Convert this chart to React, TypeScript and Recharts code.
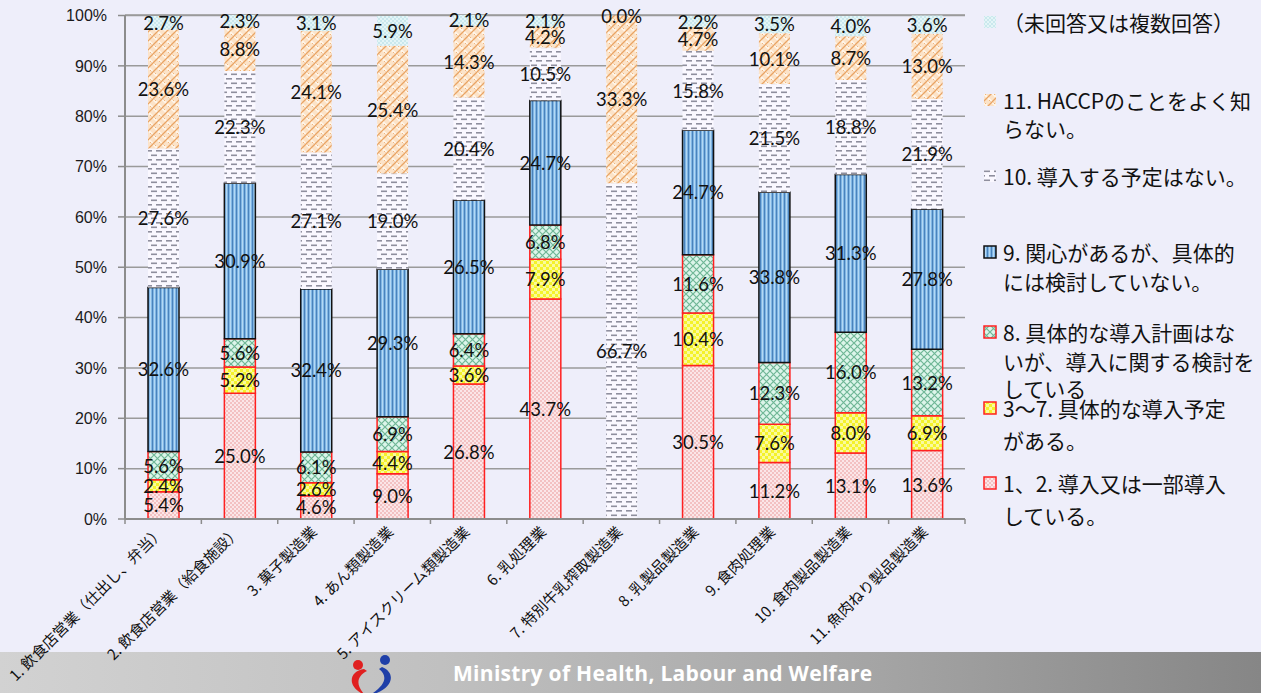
import React from 'react'
import { BarChart, Bar, XAxis, YAxis, CartesianGrid, LabelList } from 'recharts'

const categories = [
  '1. 飲食店営業（仕出し、弁当）',
  '2. 飲食店営業（給食施設）',
  '3. 菓子製造業',
  '4. あん類製造業',
  '5. アイスクリーム類製造業',
  '6. 乳処理業',
  '7. 特別牛乳搾取製造業',
  '8. 乳製品製造業',
  '9. 食肉処理業',
  '10. 食肉製品製造業',
  '11. 魚肉ねり製品製造業',
]

// bottom to top
const introduced = [5.4, 25.0, 4.6, 9.0, 26.8, 43.7, 0, 30.5, 11.2, 13.1, 13.6]
const planned = [2.4, 5.2, 2.6, 4.4, 3.6, 7.9, 0, 10.4, 7.6, 8.0, 6.9]
const considering = [5.6, 5.6, 6.1, 6.9, 6.4, 6.8, 0, 11.6, 12.3, 16.0, 13.2]
const interested = [32.6, 30.9, 32.4, 29.3, 26.5, 24.7, 0, 24.7, 33.8, 31.3, 27.8]
const noPlan = [27.6, 22.3, 27.1, 19.0, 20.4, 10.5, 66.7, 15.8, 21.5, 18.8, 21.9]
const unaware = [23.6, 8.8, 24.1, 25.4, 14.3, 4.2, 33.3, 4.7, 10.1, 8.7, 13.0]
const noAnswer = [2.7, 2.3, 3.1, 5.9, 2.1, 2.1, 0.0, 2.2, 3.5, 4.0, 3.6]

const yTicks = [0, 10, 20, 30, 40, 50, 60, 70, 80, 90, 100]

const data = categories.map((name, i) => ({
  name,
  introduced: introduced[i],
  planned: planned[i],
  considering: considering[i],
  interested: interested[i],
  noPlan: noPlan[i],
  unaware: unaware[i],
  noAnswer: noAnswer[i],
}))

const series = [
  { key: 'introduced', fill: 'url(#pDots)', stroke: '#ff2020' },
  { key: 'planned', fill: 'url(#pYellow)', stroke: '#ff2020' },
  { key: 'considering', fill: 'url(#pGreen)', stroke: '#ff2020' },
  { key: 'interested', fill: 'url(#pBlue)', stroke: '#111' },
  { key: 'noPlan', fill: 'url(#pDash)', stroke: 'none' },
  { key: 'unaware', fill: 'url(#pWeave)', stroke: 'none' },
  { key: 'noAnswer', fill: 'url(#pCyan)', stroke: 'none' },
]

const legendItems = [
  { fill: 'url(#pCyan)', stroke: 'none', lines: ['（未回答又は複数回答）'], ys: [22] },
  { fill: 'url(#pWeave)', stroke: 'none', lines: ['11. HACCPのことをよく知', 'らない。'], ys: [100, 128] },
  { fill: 'url(#pDash)', stroke: 'none', lines: ['10. 導入する予定はない。'], ys: [176] },
  { fill: 'url(#pBlue)', stroke: '#111', lines: ['9. 関心があるが、具体的', 'には検討していない。'], ys: [252, 281] },
  { fill: 'url(#pGreen)', stroke: '#ff2020', lines: ['8. 具体的な導入計画はな', 'いが、導入に関する検討を', 'している'], ys: [332, 361, 388] },
  { fill: 'url(#pYellow)', stroke: '#ff2020', lines: ['3～7. 具体的な導入予定', 'がある。'], ys: [408, 440] },
  { fill: 'url(#pDots)', stroke: '#ff2020', lines: ['1、2. 導入又は一部導入', 'している。'], ys: [483, 515] },
]

const BAND = 840 / 11
const JP = '"Noto Sans CJK JP", "Noto Sans", sans-serif'
const LABEL_FONT = "Lato, 'Open Sans', sans-serif"
const LABEL_SIZE = 18.5

function CatTick(props: any) {
  const { x, y, payload, index } = props
  const half = BAND / 2
  return (
    <g>
      {index === 0 && <line x1={x - half} x2={x - half} y1={y} y2={y + 5} stroke="#8c8c8c" strokeWidth={1.5} />}
      <line x1={x + half} x2={x + half} y1={y} y2={y + 5} stroke="#8c8c8c" strokeWidth={1.5} />
      <text
        transform={`translate(${x + 2},${y + 14}) rotate(-45)`}
        textAnchor="end"
        fontSize={15}
        fontFamily={JP}
        fill="#111"
      >
        {payload.value}
      </text>
    </g>
  )
}

function makeLabel(key: string) {
  return (props: any) => {
    const { x, y, width, height, value, index } = props
    const cx = x + width / 2
    // zero-height top segment (no answer) gets its label drawn from the segment below
    const extra =
      key === 'unaware' && noAnswer[index] === 0 ? (
        <text x={cx} y={y} textAnchor="middle" dominantBaseline="central" fontSize={LABEL_SIZE} fontFamily={LABEL_FONT} fill="#111">
          {noAnswer[index].toFixed(1)}%
        </text>
      ) : null
    if (value === 0) return extra
    return (
      <g>
        <text
          x={cx}
          y={y + height / 2}
          textAnchor="middle"
          dominantBaseline="central"
          fontSize={LABEL_SIZE}
          fontFamily={LABEL_FONT}
          fill="#111"
        >
          {Number(value).toFixed(1)}%
        </text>
        {extra}
      </g>
    )
  }
}

function Patterns() {
  return (
    <defs>
      <pattern id="pDots" width="4" height="4" patternUnits="userSpaceOnUse">
        <rect width="4" height="4" fill="#fbe6e8" />
        <circle cx="1" cy="1" r="0.75" fill="#e98a8a" />
        <circle cx="3" cy="3" r="0.75" fill="#e98a8a" />
      </pattern>
      <pattern id="pYellow" width="6" height="6" patternUnits="userSpaceOnUse">
        <rect width="6" height="6" fill="#f4f22a" />
        <rect x="0" y="0" width="3" height="3" fill="#fafa9c" />
        <rect x="3" y="3" width="3" height="3" fill="#fafa9c" />
      </pattern>
      <pattern id="pGreen" width="7" height="7" patternUnits="userSpaceOnUse">
        <rect width="7" height="7" fill="#dcf5ea" />
        <path d="M0 0L7 7M7 0L0 7" stroke="#6fb796" strokeWidth="1.2" />
      </pattern>
      <pattern id="pBlue" width="4" height="4" patternUnits="userSpaceOnUse">
        <rect width="4" height="4" fill="#80b6e4" />
        <rect x="0" width="1" height="4" fill="#4a82bc" />
        <rect x="2" width="1" height="4" fill="#b4d8f4" />
      </pattern>
      <pattern id="pDash" width="10" height="9" patternUnits="userSpaceOnUse">
        <rect width="10" height="9" fill="#faf8ff" />
        <rect x="1" y="1.5" width="6" height="1.6" fill="#8f8f9e" />
        <rect x="6" y="6" width="4" height="1.6" fill="#8f8f9e" />
        <rect x="0" y="6" width="2" height="1.6" fill="#8f8f9e" />
      </pattern>
      <pattern id="pWeave" width="9" height="9" patternUnits="userSpaceOnUse">
        <rect width="9" height="9" fill="#fce3c8" />
        <path d="M0 0L9 9M-3 6L3 12M6 -3L12 3" stroke="#fff6ea" strokeWidth="2.2" />
        <path d="M0 9L9 0M-3 3L3 -3M6 12L12 6" stroke="#e9a464" strokeWidth="1.3" />
        <path d="M1.5 0.5L3 2M6 7L7.5 8.5" stroke="#eeb57e" strokeWidth="1" />
      </pattern>
      <pattern id="pCyan" width="4" height="4" patternUnits="userSpaceOnUse">
        <rect width="4" height="4" fill="#e4f5f7" />
        <circle cx="1" cy="1" r="0.8" fill="#a9d9e2" />
        <circle cx="3" cy="3" r="0.8" fill="#a9d9e2" />
      </pattern>
    </defs>
  )
}

export default function App() {
  return (
    <div
      style={{
        position: 'absolute',
        left: 0,
        top: 0,
        width: 1261,
        height: 693,
        background: '#eeeefa',
        overflow: 'hidden',
      }}
    >
      {/* footer band */}
      <div
        style={{
          position: 'absolute',
          left: 0,
          top: 652,
          width: 1261,
          height: 41,
          background: 'linear-gradient(to right, #d2d2d2 0%, #c0c0c0 35%, #a4a4a4 70%, #868686 100%)',
        }}
      >
        <div
          style={{
            position: 'absolute',
            left: 453,
            top: 7,
            color: '#fff',
            fontFamily: '"Open Sans", sans-serif',
            fontWeight: 700,
            fontSize: 21,
            lineHeight: '28px',
            letterSpacing: 0.3,
            whiteSpace: 'nowrap',
          }}
        >
          Ministry of Health, Labour and Welfare
        </div>
      </div>

      <div style={{ position: 'absolute', left: 0, top: 0 }}>
        <BarChart
          width={980}
          height={693}
          data={data}
          margin={{ top: 15, right: 15, left: 0, bottom: 0 }}
          barSize={31}
        >
          <Patterns />
          <CartesianGrid vertical={false} stroke="#9a9a9a" strokeWidth={1.5} />
          <XAxis
            dataKey="name"
            interval={0}
            height={174}
            tickLine={false}
            tickSize={0}
            tickMargin={0}
            axisLine={{ stroke: '#8c8c8c', strokeWidth: 2 }}
            tick={<CatTick />}
          />
          <YAxis
            width={125}
            domain={[0, 100]}
            ticks={yTicks}
            tickFormatter={(v) => `${v}%`}
            tickSize={7}
            tickMargin={11}
            tickLine={{ stroke: '#8c8c8c', strokeWidth: 1.5 }}
            axisLine={{ stroke: '#8c8c8c', strokeWidth: 2 }}
            tick={{ fontSize: 16, fill: '#1a1a1a', fontFamily: '"Liberation Sans", Arial, sans-serif' }}
          />
          {series.map((s) => (
            <Bar
              key={s.key}
              dataKey={s.key}
              stackId="a"
              fill={s.fill}
              stroke={s.stroke}
              strokeWidth={1.5}
              isAnimationActive={false}
            >
              <LabelList dataKey={s.key} content={makeLabel(s.key)} />
            </Bar>
          ))}
        </BarChart>
      </div>

      {/* legend */}
      {legendItems.map((item, i) => (
        <React.Fragment key={i}>
          <svg style={{ position: 'absolute', left: 983, top: item.ys[0] - 7 }} width={14} height={14}>
            <rect x={1} y={1} width={12} height={12} fill={item.fill} stroke={item.stroke} strokeWidth={1.5} />
          </svg>
          {item.lines.map((line, j) => (
            <div
              key={j}
              style={{
                position: 'absolute',
                left: 1003,
                top: item.ys[j] - 14,
                height: 28,
                lineHeight: '28px',
                fontSize: 21,
                fontFamily: JP,
                color: '#111',
                whiteSpace: 'nowrap',
              }}
            >
              {line}
            </div>
          ))}
        </React.Fragment>
      ))}

      {/* logo */}
      <svg style={{ position: 'absolute', left: 343, top: 650 }} width={55} height={43}>
        <circle cx={15} cy={15} r={5} fill="#e02020" />
        <circle cx={42} cy={10} r={5} fill="#1f3fa8" />
        <path d="M21 19 C6 21 3 37 22 45 C12 35 14 26 24 21 Z" fill="#e02020" />
        <path d="M39 17 C54 23 50 40 27 45 C43 35 45 26 36 19 Z" fill="#1f3fa8" />
      </svg>
    </div>
  )
}
